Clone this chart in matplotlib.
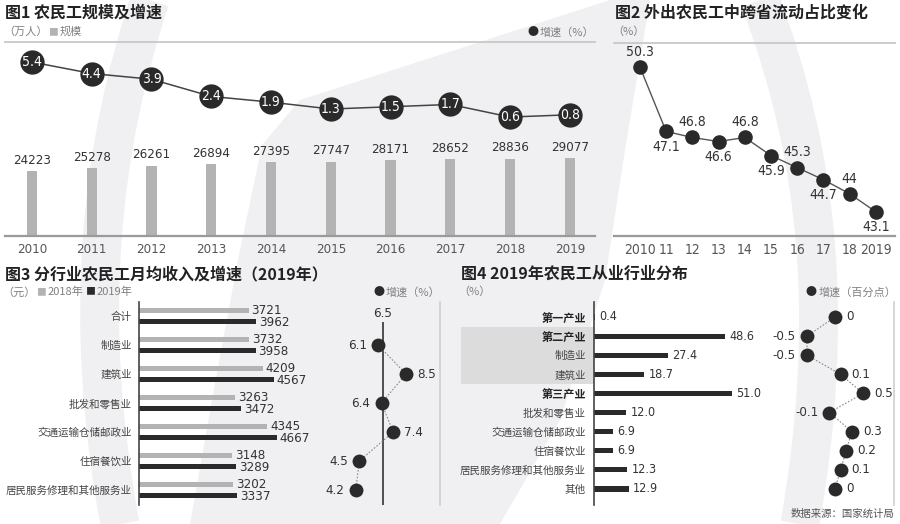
import numpy as np
import matplotlib
matplotlib.use('Agg')
import matplotlib.pyplot as plt
import matplotlib.transforms as mtransforms
from matplotlib import font_manager
from matplotlib.patches import Rectangle, Polygon, PathPatch
from matplotlib.path import Path

plt.rcParams['font.family'] = ['Noto Sans CJK SC', 'DejaVu Sans']

# 数字用窄体 (若系统有 DejaVu Sans Condensed 则用之, 否则退回 Noto)
_cond = font_manager.findfont(font_manager.FontProperties(family='DejaVu Sans', stretch='condensed'))
if 'Condensed' in _cond:
    NUM = dict(family=['DejaVu Sans'], fontstretch='condensed')
    NUM_SCALE = 1.0
else:
    NUM = dict(family=['Noto Sans CJK SC', 'DejaVu Sans'])
    NUM_SCALE = 0.9

# --- 数据 ---
# 图1 农民工规模及增速
years1 = ['2010', '2011', '2012', '2013', '2014', '2015', '2016', '2017', '2018', '2019']
scale_values = [24223, 25278, 26261, 26894, 27395, 27747, 28171, 28652, 28836, 29077]
scale_growth = [5.4, 4.4, 3.9, 2.4, 1.9, 1.3, 1.5, 1.7, 0.6, 0.8]

# 图2 外出农民工中跨省流动占比
years2 = ['2010', '11', '12', '13', '14', '15', '16', '17', '18', '2019']
cross_share = [50.3, 47.1, 46.8, 46.6, 46.8, 45.9, 45.3, 44.7, 44, 43.1]

# 图3 分行业月均收入
industries3 = ['合计', '制造业', '建筑业', '批发和零售业', '交通运输仓储邮政业',
               '住宿餐饮业', '居民服务修理和其他服务业']
income_2018 = [3721, 3732, 4209, 3263, 4345, 3148, 3202]
income_2019 = [3962, 3958, 4567, 3472, 4667, 3289, 3337]
income_growth = [6.5, 6.1, 8.5, 6.4, 7.4, 4.5, 4.2]

# 图4 从业行业分布
industries4 = ['第一产业', '第二产业', '制造业', '建筑业', '第三产业', '批发和零售业',
               '交通运输仓储邮政业', '住宿餐饮业', '居民服务修理和其他服务业', '其他']
share_2019 = [0.4, 48.6, 27.4, 18.7, 51.0, 12.0, 6.9, 6.9, 12.3, 12.9]
share_change = [0, -0.5, -0.5, 0.1, 0.5, -0.1, 0.3, 0.2, 0.1, 0]
sector_rows = ['第一产业', '第二产业', '第三产业']

# --- 颜色 ---
DARK = '#2a2a2a'
LIGHT_BAR = '#b3b3b3'
TEXT = '#333333'
SUB = '#808080'
BG_GRAY = '#f0f0f2'

W, H = 900, 524
fig = plt.figure(figsize=(W / 100, H / 100), dpi=100, facecolor='white')
renderer = fig.canvas.get_renderer()


def fx(x):
    return x / W


def fy(y):
    return 1 - y / H


def ns(size):
    return size * NUM_SCALE


def add_px_axes(left, top, right, bottom):
    ax = fig.add_axes([left / W, 1 - bottom / H, (right - left) / W, (bottom - top) / H])
    ax.patch.set_alpha(0)
    return ax


def clean(ax, keep=()):
    for name, sp in ax.spines.items():
        sp.set_visible(name in keep)


def text_row(x, y, pieces, align='left', gap=1.0):
    """按顺序横排几段不同颜色的小字, 避免互相重叠"""
    texts = [fig.text(0, fy(y), s, fontsize=size, color=c, va='center') for s, c, size in pieces]
    widths = [t.get_window_extent(renderer).width for t in texts]
    total = sum(widths) + gap * (len(texts) - 1)
    cur = x if align == 'left' else x - total
    for t, w in zip(texts, widths):
        t.set_x(fx(cur))
        cur += w + gap


def title(x, y, s):
    fig.text(fx(x), fy(y), s, fontsize=11.5, fontweight='bold', color='#222', va='center')


# --- 背景装饰 (浅灰色弧形水印) ---
bg = fig.add_axes([0, 0, 1, 1], zorder=-10)
bg.set_xlim(0, W)
bg.set_ylim(H, 0)
bg.axis('off')
bg.add_patch(Polygon([(300, 100), (610, 0), (650, 0), (625, 150), (605, 280), (560, 420),
                      (500, 524), (190, 524), (212, 400), (238, 260), (262, 145)],
                     closed=True, color=BG_GRAY, lw=0))
for verts in ([(150, 0), (100, 150), (82, 320), (120, 524)],
              [(760, 0), (820, 160), (835, 320), (800, 524)]):
    path = Path(verts, [Path.MOVETO, Path.CURVE4, Path.CURVE4, Path.CURVE4])
    bg.add_patch(PathPatch(path, fill=False, lw=28, color=BG_GRAY, capstyle='butt'))

# ================= 图1 =================
title(5, 13, '图1 农民工规模及增速')
text_row(3, 32, [('（万人）', SUB, 8), ('■', LIGHT_BAR, 7), ('规模', SUB, 8)])
text_row(594, 32, [('●', DARK, 8), ('增速（%）', SUB, 8)], align='right')

ax1 = add_px_axes(5, 42, 595, 236)
x1 = np.arange(len(years1))
ax1.bar(x1, scale_values, width=0.17, color=LIGHT_BAR, zorder=2)
for xi, v in zip(x1, scale_values):
    ax1.annotate(f'{v}', (xi, v), xytext=(0, 3), textcoords='offset points',
                 ha='center', va='bottom', fontsize=ns(9.5), color=TEXT, **NUM)
ax1.set_xlim(-0.45, 9.42)
ax1.set_ylim(0, 72300)
clean(ax1, keep=('top', 'bottom'))
ax1.spines['top'].set_color('#c8c8c8')
ax1.spines['top'].set_linewidth(1.3)
ax1.spines['bottom'].set_color('#9a9a9a')
ax1.spines['bottom'].set_linewidth(1.6)
ax1.set_xticks(x1, years1)
ax1.set_yticks([])
ax1.tick_params(axis='x', length=0, pad=5, colors='#555')
for lbl in ax1.get_xticklabels():
    lbl.set(fontsize=ns(9.5), **NUM)

ax1b = ax1.twinx()
ax1b.patch.set_alpha(0)
clean(ax1b)
ax1b.set_yticks([])
ax1b.set_ylim(-9.78, 7.15)
ax1b.plot(x1, scale_growth, color='#444', lw=1.1, zorder=2)
ax1b.plot(x1, scale_growth, 'o', ms=17.5, color=DARK, mew=0, zorder=3)
for xi, v in zip(x1, scale_growth):
    ax1b.text(xi, v, f'{v}', color='white', ha='center', va='center',
              fontsize=ns(10), zorder=4, **NUM)

# ================= 图2 =================
title(615, 13, '图2 外出农民工中跨省流动占比变化')
text_row(612, 32, [('（%）', SUB, 8)])

ax2 = add_px_axes(614, 43, 895, 236)
x2 = np.arange(len(years2))
ax2.plot(x2, cross_share, color='#555', lw=1, zorder=2)
ax2.plot(x2, cross_share, 'o', ms=10.5, color=DARK, mew=0, zorder=3)
for i, (xi, v) in enumerate(zip(x2, cross_share)):
    dy = 11 if i % 2 == 0 else -11
    ax2.annotate(f'{v:g}', (xi, v), xytext=(0, dy), textcoords='offset points',
                 ha='center', va='center', fontsize=ns(10), color=TEXT, **NUM)
ax2.set_xlim(-0.99, 9.73)
ax2.set_ylim(41.9, 51.5)
clean(ax2, keep=('top', 'bottom'))
ax2.spines['top'].set_color('#c8c8c8')
ax2.spines['top'].set_linewidth(1.3)
ax2.spines['bottom'].set_color('#9a9a9a')
ax2.spines['bottom'].set_linewidth(1.6)
ax2.set_xticks(x2, years2)
ax2.set_yticks([])
ax2.tick_params(axis='x', length=0, pad=5, colors='#555')
for lbl in ax2.get_xticklabels():
    lbl.set(fontsize=ns(10), **NUM)

# ================= 图3 =================
title(5, 274, '图3 分行业农民工月均收入及增速（2019年）')
text_row(2, 292, [('（元）', SUB, 8), ('■', LIGHT_BAR, 7), ('2018年', SUB, 8),
                  (' ■', DARK, 7), ('2019年', SUB, 8)])
text_row(440, 292, [('●', DARK, 8), ('增速（%）', SUB, 8)], align='right')

n3 = len(industries3)
y3 = np.arange(n3)
off3 = 0.18
ax3 = add_px_axes(139, 302, 300, 505)
ax3.barh(y3 - off3, income_2018, height=0.18, color=LIGHT_BAR, zorder=2)
ax3.barh(y3 + off3, income_2019, height=0.18, color=DARK, zorder=2)
for yi, v in zip(y3, income_2018):
    ax3.annotate(f'{v}', (v, yi - off3), xytext=(2, 0), textcoords='offset points',
                 ha='left', va='center', fontsize=ns(9.5), color=TEXT, **NUM)
for yi, v in zip(y3, income_2019):
    ax3.annotate(f'{v}', (v, yi + off3), xytext=(2, -1), textcoords='offset points',
                 ha='left', va='center', fontsize=ns(9.5), color=TEXT, **NUM)
ax3.set_xlim(0, 5458)
ax3.set_ylim(6.517, -0.483)
clean(ax3, keep=('left',))
ax3.spines['left'].set_color('#444')
ax3.spines['left'].set_linewidth(1.2)
ax3.set_xticks([])
ax3.set_yticks(y3, industries3)
ax3.tick_params(axis='y', length=0, pad=5, labelsize=7.6, colors='#444')

ax3b = add_px_axes(300, 302, 440, 505)
ax3b.set_ylim(ax3.get_ylim())
ax3b.set_xlim(-0.567, 11.40)
clean(ax3b, keep=('right',))
ax3b.spines['right'].set_color('#cfcfcf')
ax3b.spines['right'].set_linewidth(1.2)
ax3b.set_xticks([])
ax3b.set_yticks([])
total_growth = income_growth[0]
# 合计增速用竖线表示, 数值标在线的顶端
ax3b.vlines(total_growth, 0.22, 6.517, color='#333', lw=1.2, zorder=1)
ax3b.annotate(f'{total_growth}', (total_growth, 0), xytext=(0, 2), textcoords='offset points',
              ha='center', va='center', fontsize=ns(9.5), color=TEXT, **NUM)
ax3b.plot(income_growth[1:], y3[1:], color='#8a8a8a', lw=0.8, ls=(0, (1.5, 1.5)), zorder=2)
ax3b.plot(income_growth[1:], y3[1:], 'o', ms=10, color=DARK, mew=0, zorder=3)
for yi, v in zip(y3[1:], income_growth[1:]):
    right = v > total_growth
    ax3b.annotate(f'{v}', (v, yi), xytext=(8 if right else -8, 0), textcoords='offset points',
                  ha='left' if right else 'right', va='center', fontsize=ns(9.5),
                  color=TEXT, **NUM)

# ================= 图4 =================
title(461, 274, '图4 2019年农民工从业行业分布')
text_row(458, 292, [('（%）', SUB, 8)])
text_row(896, 292, [('●', DARK, 8), ('增速（百分点）', SUB, 8)], align='right')

n4 = len(industries4)
y4 = np.arange(n4)
ax4 = add_px_axes(594, 302, 760, 505)
ax4.set_ylim(9.84, -0.785)
ax4.set_xlim(0, 61.5)
# 第二产业分组的灰色底框
trans = mtransforms.blended_transform_factory(ax4.transAxes, ax4.transData)
g0 = industries4.index('第二产业')
g1 = industries4.index('建筑业')
ax4.add_patch(Rectangle((-0.80, g0 - 0.5), 0.80, g1 - g0 + 1, transform=trans,
                        color='#dcdcdc', lw=0, clip_on=False, zorder=0))
ax4.barh(y4, share_2019, height=0.27, color=DARK, zorder=2)
for yi, v in zip(y4, share_2019):
    ax4.annotate(f'{v:.1f}', (v, yi), xytext=(3, 0), textcoords='offset points',
                 ha='left', va='center', fontsize=ns(9), color=TEXT, **NUM)
clean(ax4, keep=('left',))
ax4.spines['left'].set_color('#444')
ax4.spines['left'].set_linewidth(1.2)
ax4.set_xticks([])
ax4.set_yticks(y4, industries4)
ax4.tick_params(axis='y', length=0, pad=6, labelsize=7.6, colors='#444')
for lbl in ax4.get_yticklabels():
    if lbl.get_text() in sector_rows:
        lbl.set_fontweight('bold')
        lbl.set_fontsize(8)
        lbl.set_color('#222')

ax4b = add_px_axes(760, 302, 894, 505)
ax4b.set_ylim(ax4.get_ylim())
ax4b.set_xlim(-1.34, 1.054)
clean(ax4b, keep=('right',))
ax4b.spines['right'].set_color('#cfcfcf')
ax4b.spines['right'].set_linewidth(1.2)
ax4b.set_xticks([])
ax4b.set_yticks([])
ax4b.plot(share_change, y4, color='#8a8a8a', lw=0.8, ls=(0, (1.5, 1.5)), zorder=2)
ax4b.plot(share_change, y4, 'o', ms=10, color=DARK, mew=0, zorder=3)
for yi, v in zip(y4, share_change):
    right = v >= 0
    ax4b.annotate(f'{v:g}', (v, yi), xytext=(8 if right else -8, 0), textcoords='offset points',
                  ha='left' if right else 'right', va='center', fontsize=ns(9.5),
                  color=TEXT, **NUM)

fig.text(fx(894), fy(514), '数据来源：国家统计局', fontsize=7.5, color='#555', ha='right', va='center')

fig.savefig('out.png', dpi=100, facecolor=fig.get_facecolor())
